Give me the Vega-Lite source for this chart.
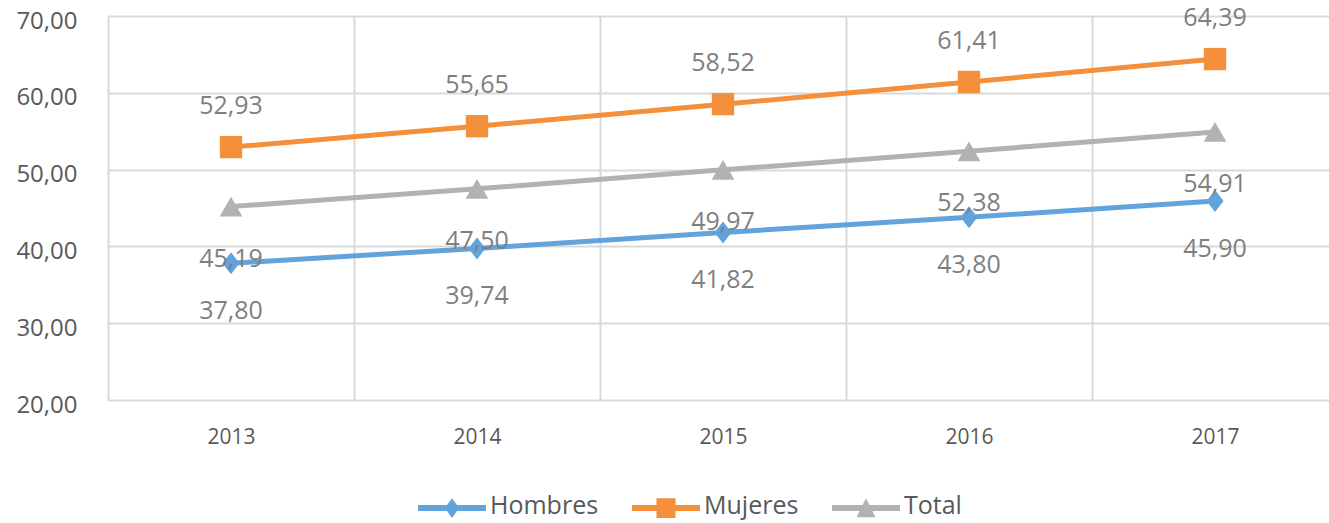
{
  "$schema": "https://vega.github.io/schema/vega-lite/v6.json",
  "width": 1221,
  "height": 384,
  "autosize": {"type": "none"},
  "padding": {"left": 108, "top": 16, "right": 0, "bottom": 123},
  "background": "white",
  "data": {
    "values": [
      {"year": "2013", "series": "Hombres", "value": 37.80},
      {"year": "2014", "series": "Hombres", "value": 39.74},
      {"year": "2015", "series": "Hombres", "value": 41.82},
      {"year": "2016", "series": "Hombres", "value": 43.80},
      {"year": "2017", "series": "Hombres", "value": 45.90},
      {"year": "2013", "series": "Mujeres", "value": 52.93},
      {"year": "2014", "series": "Mujeres", "value": 55.65},
      {"year": "2015", "series": "Mujeres", "value": 58.52},
      {"year": "2016", "series": "Mujeres", "value": 61.41},
      {"year": "2017", "series": "Mujeres", "value": 64.39},
      {"year": "2013", "series": "Total", "value": 45.19},
      {"year": "2014", "series": "Total", "value": 47.50},
      {"year": "2015", "series": "Total", "value": 49.97},
      {"year": "2016", "series": "Total", "value": 52.38},
      {"year": "2017", "series": "Total", "value": 54.91}
    ]
  },
  "encoding": {
    "x": {
      "field": "year",
      "type": "nominal",
      "scale": {"type": "band", "paddingInner": 0, "paddingOuter": 0, "range": [0, 1230]},
      "axis": {
        "title": null,
        "labelAngle": 0,
        "ticks": false,
        "domain": false,
        "grid": true,
        "tickBand": "extent",
        "gridColor": "#d9d9d9",
        "gridWidth": 2,
        "labelFont": "Open Sans",
        "labelFontSize": 21,
        "labelColor": "#595959",
        "labelBaseline": "middle",
        "labelPadding": 37
      }
    },
    "y": {
      "field": "value",
      "type": "quantitative",
      "scale": {"domain": [20, 70], "nice": false, "zero": false},
      "axis": {
        "title": null,
        "values": [20, 30, 40, 50, 60, 70],
        "format": ".2f",
        "ticks": false,
        "domain": false,
        "gridColor": "#d9d9d9",
        "gridWidth": 2,
        "labelFont": "Open Sans",
        "labelFontSize": 24,
        "labelColor": "#595959",
        "labelPadding": 31,
        "labelOffset": 5
      }
    },
    "color": {
      "field": "series",
      "type": "nominal",
      "scale": {"domain": ["Hombres", "Mujeres", "Total"], "range": ["#62a3dc", "#f4903c", "#b2b2b2"]},
      "legend": {
        "title": null,
        "orient": "none",
        "legendX": 310,
        "legendY": 456,
        "direction": "horizontal",
        "symbolSize": 4624,
        "symbolStrokeWidth": 0,
        "labelOffset": 4,
        "columnPadding": 33,
        "labelFont": "Open Sans",
        "labelFontSize": 25,
        "labelColor": "#595959",
        "encode": {
          "symbols": {
            "update": {
              "shape": {"signal": "datum.value === 'Hombres' ? 'M-1,-0.03H1V0.15H-1Z M0,-0.23L0.21,0.06L0,0.35L-0.21,0.06Z' : datum.value === 'Mujeres' ? 'M-1,-0.03H1V0.15H-1Z M-0.28,-0.23H0.28V0.35H-0.28Z' : 'M-1,-0.03H1V0.15H-1Z M0,-0.23L0.28,0.33H-0.28Z'"},
              "fill": {"signal": "scale('color', datum.value)"},
              "strokeWidth": {"value": 0},
              "opacity": {"value": 1},
              "fillOpacity": {"value": 1}
            }
          }
        }
      }
    }
  },
  "layer": [
    {
      "mark": {"type": "line", "strokeWidth": 5, "strokeJoin": "round"}
    },
    {
      "transform": [{"filter": "datum.series === 'Hombres'"}],
      "mark": {"type": "point", "filled": true, "opacity": 1, "size": 400, "shape": "M0,-1.1L0.85,0L0,1.1L-0.85,0Z"}
    },
    {
      "transform": [{"filter": "datum.series === 'Mujeres'"}],
      "mark": {"type": "point", "filled": true, "opacity": 1, "size": 500, "shape": "square"}
    },
    {
      "transform": [{"filter": "datum.series === 'Total'"}],
      "mark": {"type": "point", "filled": true, "opacity": 1, "size": 520, "shape": "triangle-up"}
    },
    {
      "transform": [{"filter": "datum.series === 'Mujeres'"}],
      "mark": {"type": "text", "dy": -41, "baseline": "middle", "font": "Open Sans", "fontSize": 25, "color": "#7f7f7f"},
      "encoding": {
        "text": {"field": "value", "type": "quantitative", "format": ".2f"},
        "color": {"value": "#7f7f7f"}
      }
    },
    {
      "transform": [{"filter": "datum.series === 'Total'"}],
      "mark": {"type": "text", "dy": 52, "baseline": "middle", "font": "Open Sans", "fontSize": 25, "color": "#7f7f7f"},
      "encoding": {
        "text": {"field": "value", "type": "quantitative", "format": ".2f"},
        "color": {"value": "#7f7f7f"}
      }
    },
    {
      "transform": [{"filter": "datum.series === 'Hombres'"}],
      "mark": {"type": "text", "dy": 48, "baseline": "middle", "font": "Open Sans", "fontSize": 25, "color": "#7f7f7f"},
      "encoding": {
        "text": {"field": "value", "type": "quantitative", "format": ".2f"},
        "color": {"value": "#7f7f7f"}
      }
    }
  ],
  "config": {
    "view": {"stroke": null},
    "locale": {"number": {"decimal": ",", "thousands": ".", "grouping": [3], "currency": ["", " €"]}}
  }
}
